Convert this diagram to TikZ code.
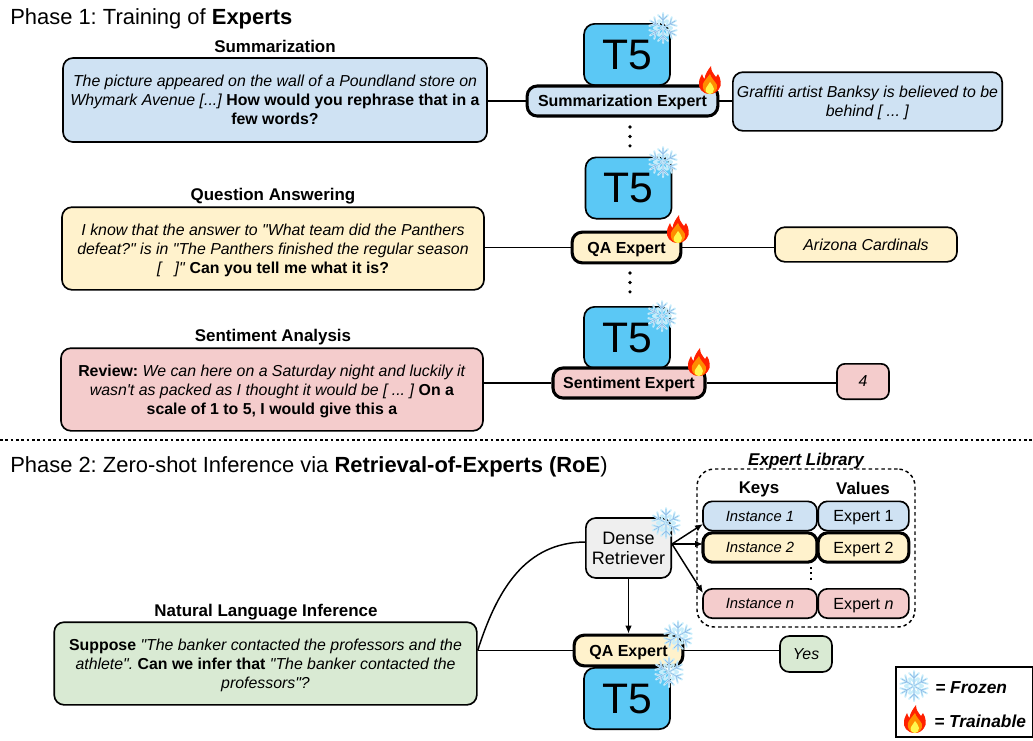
\documentclass[tikz,border=0pt]{standalone}
\usepackage{fontspec}
\setmainfont{Liberation Sans}[Ligatures=TeXOff]
\usetikzlibrary{arrows.meta}
\AtBeginDocument{\frenchspacing}
\definecolor{sumblue}{HTML}{CFE2F3}
\definecolor{qayellow}{HTML}{FFF2CC}
\definecolor{sentpink}{HTML}{F4CCCC}
\definecolor{nligreen}{HTML}{D9EAD3}
\definecolor{drgray}{HTML}{EFEFEF}
\definecolor{tfblue}{HTML}{5BC8F5}

\begin{document}
\begin{tikzpicture}[x=0.75pt,y=-0.75pt]
\tikzset{txtbox/.style = {shape=rectangle,draw,rounded corners=7.5pt,line width=1.25pt,inner sep=0pt,align=center,text depth=0pt,font=\fontsize{11.9}{14.25}\selectfont}}
\tikzset{expbox/.style = {txtbox,line width=2.3pt,font=\fontsize{12}{14}\selectfont\bfseries}}
\tikzset{tfbox/.style = {txtbox,rounded corners=8pt,fill=tfblue,minimum width=64.5pt,minimum height=46pt,font=\fontsize{32}{36}\selectfont}}
\tikzset{keybox/.style = {txtbox,rounded corners=7pt,minimum width=85.5pt,minimum height=22pt,font=\fontsize{11.1}{13}\selectfont\itshape}}
\tikzset{valbox/.style = {txtbox,rounded corners=7pt,minimum width=68pt,minimum height=22pt,font=\fontsize{12.1}{14}\selectfont}}
\tikzset{head/.style = {text depth=0pt,font=\fontsize{12.7}{15}\selectfont\bfseries}}
\tikzset{phase/.style = {anchor=west,inner sep=0pt,text depth=0pt,font=\fontsize{16.45}{19}\selectfont}}
\tikzset{wire/.style = {line width=1.1pt}}
\tikzset{edge/.style = {-{Latex[length=6pt,width=5pt]},line width=1.1pt}}
\tikzset{dotline/.style = {line width=2.7pt,line cap=round,dash pattern=on 0pt off 7.1pt}}
\tikzset{legtext/.style = {anchor=west,inner sep=0pt,font=\fontsize{13}{15}\selectfont\bfseries\itshape}}
\tikzset{snowflake/.pic = {
  \foreach \a in {0,60,...,300} {
    \draw[rotate=\a,color=cyan!22!white,line width=1.5pt,line cap=round] (0,0) -- (0,-15) (-5,-13) -- (0,-8) -- (5,-13) (-4,-8) -- (0,-4) -- (4,-8);
    \draw[rotate=\a,color=cyan!60!blue!45!white,line width=0.4pt] (0,0) -- (0,-14) (-4,-12) -- (0,-8) -- (4,-12);
  }
}}
\tikzset{flame/.pic = {
  \fill[red!75!orange] (0,14) .. controls (-8,14) and (-12,8) .. (-11,2) .. controls (-10.5,-2) and (-9,-3) .. (-8,-6) .. controls (-7,-3) and (-6.5,-2) .. (-5.5,-1) .. controls (-5,-6) and (-2,-10) .. (1,-14) .. controls (1,-9) and (3,-7) .. (6,-3) .. controls (7,-4) and (7.5,-5) .. (8,-6) .. controls (11,-1) and (12,5) .. (9,9) .. controls (7,12) and (4,14) .. (0,14);
  \fill[orange!90!yellow] (0,14) .. controls (-6,14) and (-8,8) .. (-7,4) .. controls (-6,1) and (-3,-2) .. (0,-6) .. controls (1,-2) and (5,1) .. (7,5) .. controls (8,10) and (4,14) .. (0,14);
  \fill[yellow!70!white] (0,14) .. controls (-4,14) and (-5,10) .. (-4,8) .. controls (-3,6) and (-1,4) .. (0,2) .. controls (1,4) and (4,6) .. (4,9) .. controls (4,12) and (2,14) .. (0,14);
}}
\useasboundingbox (0,0) rectangle (1033,740);

\node[phase] (title_1) at (10,17) {Phase 1: Training of \textbf{Experts}};
\node[head] (head_1) at (275,46) {Summarization};
\node[txtbox,fill=sumblue,minimum width=318pt,minimum height=63pt] (in_1) at (275,100) {\textit{The picture appeared on the wall of a Poundland store on}\\\textit{Whymark Avenue [...]} \textbf{How would you rephrase that in a}\\\textbf{few words?}};
\node[tfbox] (t5_1) at (627,54.5) {T5};
\node[expbox,fill=sumblue,minimum width=143pt,minimum height=22.5pt] (exp_1) at (622.5,101) {Summarization Expert};
\node[txtbox,fill=sumblue,minimum width=202pt,minimum height=44pt] (out_1) at (867.5,101.5) {\textit{Graffiti artist Banksy is believed to be}\\\textit{behind [ ... ]}};
\draw[dotline] (630,127) -- (630,147);

\node[head] (head_2) at (273,194) {Question Answering};
\node[txtbox,fill=qayellow,minimum width=316.5pt,minimum height=62pt] (in_2) at (273,248.5) {\textit{I know that the answer to "What team did the Panthers}\\\textit{defeat?" is in "The Panthers finished the regular season}\\\textit{[\ \ \ ]"} \textbf{Can you tell me what it is?}};
\node[tfbox] (t5_2) at (628.5,188) {T5};
\node[expbox,fill=qayellow,minimum width=81.5pt,minimum height=23pt] (exp_2) at (626.5,247.5) {QA Expert};
\node[txtbox,fill=qayellow,minimum width=136.5pt,minimum height=26pt] (out_2) at (866,244.5) {\textit{Arizona Cardinals}};
\draw[dotline] (630,273) -- (630,293);

\node[head] (head_3) at (273,335) {Sentiment Analysis};
\node[txtbox,fill=sentpink,minimum width=316.5pt,minimum height=62pt] (in_3) at (272,389.5) {\textbf{Review:} \textit{We can here on a Saturday night and luckily it}\\\textit{wasn't as packed as I thought it would be [ ... ]} \textbf{On a}\\\textbf{scale of 1 to 5, I would give this a}};
\node[tfbox] (t5_3) at (627,337.5) {T5};
\node[expbox,fill=sentpink,minimum width=114pt,minimum height=22.5pt] (exp_3) at (629,383) {Sentiment Expert};
\node[txtbox,fill=sentpink,rounded corners=6pt,minimum width=39pt,minimum height=26.5pt] (out_3) at (863,381.5) {\textit{4}};

\draw[wire] (exp_1.west -| in_1.east) to (exp_1.west);
\draw[wire] (exp_1.east) to (exp_1.east -| out_1.west);
\draw[wire] (exp_2.west -| in_2.east) to (exp_2.west);
\draw[wire] (exp_2.east) to (exp_2.east -| out_2.west);
\draw[wire] (exp_3.west -| in_3.east) to (exp_3.west);
\draw[wire] (exp_3.east) to (exp_3.east -| out_3.west);

\coordinate (sep_l) at (0,440);
\coordinate (sep_r) at (1033,440);
\draw[line width=1pt,dash pattern=on 2pt off 2pt] (sep_l) to (sep_r);

\node[phase] (title_2) at (10,465) {Phase 2: Zero-shot Inference via \textbf{Retrieval-of-Experts (RoE})};
\node[head,font=\fontsize{12.8}{15}\selectfont\bfseries\itshape] (lib_head) at (806,459) {Expert Library};
\node[shape=rectangle,draw,rounded corners=13pt,line width=1.1pt,dash pattern=on 2.6pt off 2.2pt,minimum width=163.5pt,minimum height=118.5pt] (lib) at (806,548) {};
\node[head] (keys) at (759,488) {Keys};
\node[head] (values) at (863,488) {Values};
\node[keybox,fill=sumblue] (key_1) at (760,516) {Instance 1};
\node[valbox,fill=sumblue] (val_1) at (863.5,516) {Expert 1};
\node[keybox,fill=qayellow,line width=2.3pt] (key_2) at (760,547.5) {Instance 2};
\node[valbox,fill=qayellow,line width=2.3pt] (val_2) at (863.5,547.5) {Expert 2};
\node[keybox,fill=sentpink] (key_3) at (760,603.5) {Instance n};
\node[valbox,fill=sentpink] (val_3) at (863.5,603.5) {Expert \textit{n}};
\draw[line width=1.5pt,dash pattern=on 1.5pt off 2.5pt] (811,567) -- (811,582);

\node[txtbox,fill=drgray,minimum width=64pt,minimum height=45pt,font=\fontsize{13.5}{15}\selectfont] (dr) at (628.5,548) {Dense\\Retriever};
\node[head] (head_4) at (266,610) {Natural Language Inference};
\node[txtbox,fill=nligreen,minimum width=317pt,minimum height=62pt] (in_4) at (265.5,663.5) {\textbf{Suppose} \textit{"The banker contacted the professors and the}\\\textit{athlete".} \textbf{Can we infer that} \textit{"The banker contacted the}\\\textit{professors"?}};
\node[expbox,fill=qayellow,minimum width=81.5pt,minimum height=23pt] (exp_4) at (628.5,650.5) {QA Expert};
\node[tfbox] (t5_4) at (627,698.5) {T5};
\node[txtbox,fill=nligreen,rounded corners=7pt,minimum width=39pt,minimum height=27pt] (out_4) at (806,654) {\textit{Yes}};

\coordinate (in_4_out) at (in_4.east |- exp_4.west);
\coordinate (dr_in) at (586,542);
\coordinate (dr_out) at (672,544);
\coordinate (key_1_in) at (703,524);
\coordinate (key_2_in) at (703,544);
\coordinate (key_3_in) at (703,593);
\draw[wire] (in_4_out) to (exp_4.west);
\draw[wire] (in_4_out) .. controls (497,590) and (525,542) .. (dr_in);
\draw[wire] (exp_4.east) to (exp_4.east -| out_4.west);
\draw[edge] (dr.south) to (dr.south |- exp_4.north);
\draw[edge] (dr_out) to (key_1_in);
\draw[edge] (dr_out) to (key_2_in);
\draw[edge] (dr_out) to (key_3_in);

\node[shape=rectangle,draw,line width=1.5pt,minimum width=102.5pt,minimum height=52pt] (legend) at (964.5,702) {};
\node[legtext] (leg_1) at (935,688) {= Frozen};
\node[legtext] (leg_2) at (934,721) {= Trainable};

\pic at (663,28) {snowflake};
\pic at (663,162) {snowflake};
\pic at (662,316) {snowflake};
\pic at (666,523) {snowflake};
\pic at (678,636) {snowflake};
\pic at (669,672) {snowflake};
\pic at (914,686) {snowflake};
\pic at (710,80) {flame};
\pic at (678,229) {flame};
\pic at (699,362) {flame};
\pic at (915,719) {flame};
\end{tikzpicture}
\end{document}
